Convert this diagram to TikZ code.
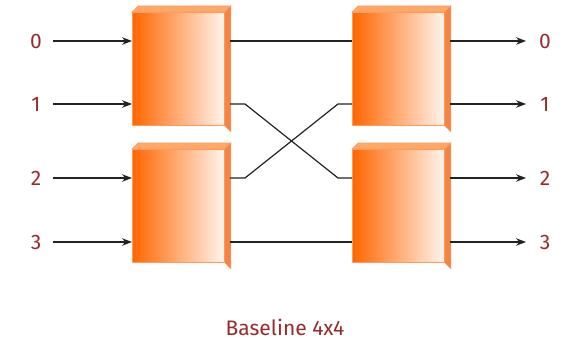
\documentclass[tikz,border=0pt]{standalone}
\usepackage{fontspec}
\setmainfont{Fira Sans}
\usetikzlibrary{arrows.meta}
\definecolor{labelred}{HTML}{9A2A2A}
\definecolor{boxdark}{HTML}{FF6600}
\definecolor{boxlight}{HTML}{FFF4EC}
\definecolor{boxedge}{HTML}{FF9A60}
\definecolor{boxtop}{HTML}{FFA868}
\definecolor{boxside}{HTML}{F28545}
\definecolor{wirecol}{HTML}{222222}
\tikzset{
  front/.style={rectangle, draw=boxedge, line width=0.8pt, left color=boxdark, right color=boxlight,
    minimum width=92pt, minimum height=113pt, anchor=north west, inner sep=0pt},
  topface/.style={fill=boxtop, draw=boxedge, line width=0.6pt},
  sideface/.style={fill=boxside, draw=boxedge, line width=0.6pt},
  wire/.style={draw=wirecol, line width=1.2pt},
  arrowwire/.style={wire, -{Stealth[length=10pt,width=7.5pt]}},
  port/.style={text=labelred, font=\fontsize{21}{21}\selectfont, inner sep=0pt},
  caption/.style={text=labelred, font=\fontsize{21}{21}\selectfont, inner sep=0pt}
}
\newcommand{\switchbox}[3]{%
  \node[front] (#1) at (#2,#3) {};
  \draw[topface] (#1.north west) -- ++(6,-6) -- ([shift={(6,-6)}]#1.north east) -- (#1.north east) -- cycle;
  \draw[sideface] (#1.north east) -- ++(6,-6) -- ([shift={(6,6)}]#1.south east) -- (#1.south east) -- cycle;
}
\begin{document}
\begin{tikzpicture}[x=1pt,y=-1pt]
\useasboundingbox (0,0) rectangle (567,342);

% the four 2x2 switching elements
\switchbox{A}{132}{12}
\switchbox{B}{132}{149}
\switchbox{C}{352}{12}
\switchbox{D}{352}{149}

% input labels and arrows
\foreach \i/\y in {0/41,1/104,2/178,3/242}{
  \node[port] (in\i) at (36,\y) {\i};
  \coordinate (is\i) at (53,\y);
  \coordinate (ie\i) at (132,\y);
  \draw[arrowwire] (is\i) -- (ie\i);
}

% output labels and arrows
\foreach \i/\y in {0/41,1/104,2/178,3/242}{
  \node[port] (out\i) at (545,\y) {\i};
  \coordinate (os\i) at (450,\y);
  \coordinate (oe\i) at (526,\y);
  \draw[arrowwire] (os\i) -- (oe\i);
}

% links between the two stages
\coordinate (a0) at (230,41);  \coordinate (c0) at (352,41);
\coordinate (a1) at (230,104); \coordinate (c1) at (352,104);
\coordinate (b0) at (230,178); \coordinate (d0) at (352,178);
\coordinate (b1) at (230,242); \coordinate (d1) at (352,242);
\draw[wire] (a0) -- (c0);
\draw[wire] (b1) -- (d1);
\draw[wire] (a1) -- ++(15,0) -- ([xshift=-14pt]d0) -- (d0);
\draw[wire] (b0) -- ++(15,0) -- ([xshift=-14pt]c1) -- (c1);

\node[caption] (title) at (285,327) {Baseline 4x4};
\end{tikzpicture}
\end{document}
